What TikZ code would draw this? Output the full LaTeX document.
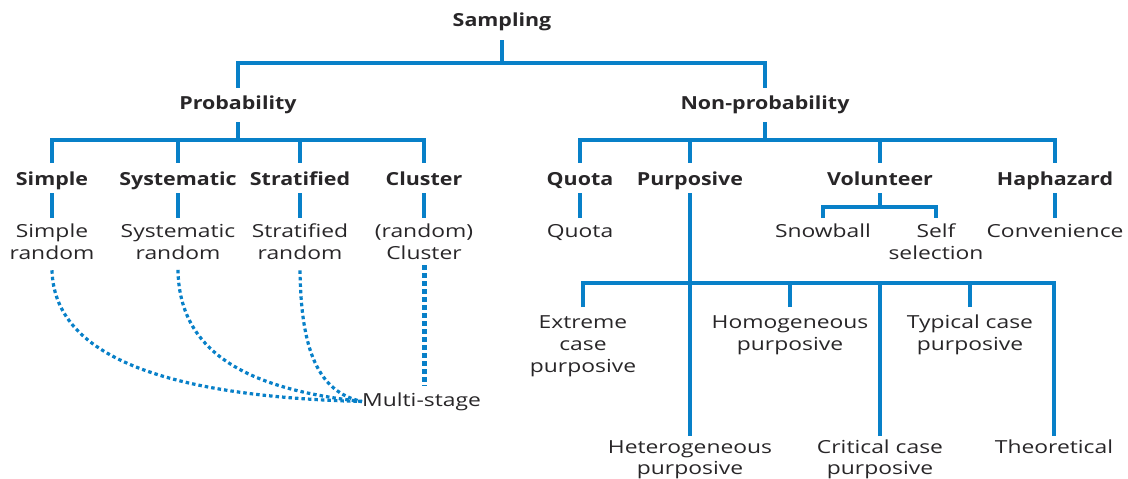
\documentclass[tikz,border=0pt]{standalone}
\usepackage{fontspec}
\setmainfont{Open Sans}[FakeStretch=1.27]
\newfontfamily\boldfam{Open Sans}[FakeStretch=1.19]
\definecolor{lnblue}{RGB}{8,128,200}
\definecolor{txt}{RGB}{40,38,40}
\begin{document}
\begin{tikzpicture}[x=1pt,y=-1pt,
  ln/.style={draw=lnblue, line width=4.5pt, line join=miter},
  dotln/.style={draw=lnblue, line width=3.2pt, dash pattern=on 3.5pt off 3pt},
  cdot/.style={draw=lnblue, line width=5pt, dash pattern=on 5pt off 3pt},
  one/.style={font=\fontsize{18}{22}\selectfont, text=txt, inner sep=0pt, text height=13.5pt, text depth=4.5pt, anchor=base},
  bone/.style={one, font=\fontsize{18}{22}\selectfont\boldfam\bfseries},
  multi/.style={font=\fontsize{18}{22}\selectfont, text=txt, inner sep=0pt, align=center, anchor=north},
  multib/.style={multi, font=\fontsize{18}{21}\selectfont}]
\useasboundingbox (0,0) rectangle (1128,479);
% top levels
\node[bone] (samp) at (502,26.5) {Sampling};
\node[bone] (prob) at (238,109.5) {Probability};
\node[bone] (nonp) at (765,109.5) {Non-probability};
\coordinate (j0) at (502,63);
\draw[ln] ([yshift=-9pt]samp.south) -- (j0);
\draw[ln] ([yshift=8pt]prob.north) |- (j0) -| ([yshift=8pt]nonp.north);
% probability branch
\node[bone] (simple) at (52,185.5) {Simple};
\node[bone] (syst) at (178,185.5) {Systematic};
\node[bone] (strat) at (300,185.5) {Stratified};
\node[bone] (clus) at (424,185.5) {Cluster};
\coordinate (j1) at (238,140);
\draw[ln] ([yshift=-8pt]prob.south) -- (j1);
\draw[ln] ([yshift=9pt]simple.north) |- (j1) -| ([yshift=9pt]clus.north);
\draw[ln] ([yshift=9pt]syst.north) -- (syst.north |- j1);
\draw[ln] ([yshift=9pt]strat.north) -- (strat.north |- j1);
\node[multi] (simr) at (52,224) {Simple\\random};
\node[multi] (sysr) at (178,224) {Systematic\\random};
\node[multi] (strr) at (300,224) {Stratified\\random};
\node[multi] (clur) at (424,224) {(random)\\Cluster};
\draw[ln] ([yshift=-3pt]simple.south) -- ([yshift=6pt]simr.north);
\draw[ln] ([yshift=-3pt]syst.south) -- ([yshift=6pt]sysr.north);
\draw[ln] ([yshift=-3pt]strat.south) -- ([yshift=6pt]strr.north);
\draw[ln] ([yshift=-3pt]clus.south) -- ([yshift=6pt]clur.north);
\node[one, anchor=base west] (ms) at (362,406) {Multi-stage};
\draw[dotln] ([yshift=-10pt]simr.south) .. controls (54,350) and (150,396) .. (ms.west);
\draw[dotln] ([yshift=-10pt]sysr.south) .. controls (179,345) and (235,388) .. (ms.west);
\draw[dotln] ([yshift=-10pt]strr.south) .. controls (301,350) and (318,392) .. (ms.west);
\draw[cdot] ([yshift=-5pt]clur.south) -- ([yshift=6pt]clur.south |- ms.north);
% non-probability branch
\node[bone] (quota) at (580,185.5) {Quota};
\node[bone] (purp) at (690,185.5) {Purposive};
\node[bone] (vol) at (880,185.5) {Volunteer};
\node[bone] (hap) at (1055,185.5) {Haphazard};
\coordinate (j2) at (765,140);
\draw[ln] ([yshift=-8pt]nonp.south) -- (j2);
\draw[ln] ([yshift=9pt]quota.north) |- (j2) -| ([yshift=9pt]hap.north);
\draw[ln] ([yshift=9pt]purp.north) -- (purp.north |- j2);
\draw[ln] ([yshift=9pt]vol.north) -- (vol.north |- j2);
\node[multi] (quota2) at (580,224) {Quota};
\node[multi] (snow) at (823,224) {Snowball};
\node[multi] (self) at (936,224) {Self\\selection};
\node[multi] (conv) at (1055,224) {Convenience};
\draw[ln] ([yshift=-3pt]quota.south) -- ([yshift=6pt]quota2.north);
\draw[ln] ([yshift=-3pt]hap.south) -- ([yshift=6pt]conv.north);
\coordinate (j3) at (880,207);
\draw[ln] ([yshift=-3pt]vol.south) -- (j3);
\draw[ln] ([yshift=6pt]snow.north) |- (j3) -| ([yshift=6pt]self.north);
% purposive leaves
\node[multi] (ext) at (583,315) {Extreme\\case\\purposive};
\node[multi] (hom) at (790,315) {Homogeneous\\purposive};
\node[multi] (typ) at (970,315) {Typical case\\purposive};
\node[multib] (het) at (690,440) {Heterogeneous\\purposive};
\node[multib] (crit) at (880,440) {Critical case\\purposive};
\node[multib] (theo) at (1054,440) {Theoretical};
\coordinate (j4) at (690,283);
\draw[ln] ([yshift=-3pt]purp.south) -- ([yshift=4pt]het.north);
\draw[ln] ([yshift=8pt]ext.north) |- (j4) -| ([yshift=4pt]theo.north);
\draw[ln] ([yshift=8pt]hom.north) -- (hom.north |- j4);
\draw[ln] ([yshift=8pt]typ.north) -- (typ.north |- j4);
\draw[ln] ([yshift=4pt]crit.north) -- (crit.north |- j4);
\end{tikzpicture}
\end{document}
